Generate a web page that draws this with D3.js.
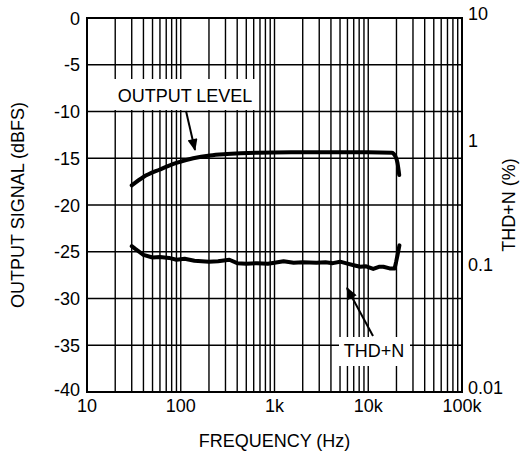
<!DOCTYPE html>
<html>
<head>
<meta charset="utf-8">
<script src="https://cdn.jsdelivr.net/npm/d3@7"></script>
<style>
  body { margin: 0; background: #fff; }
  svg text { font-family: "Liberation Sans", Arial, sans-serif; fill: #000; }
</style>
</head>
<body>
<svg id="chart" width="526" height="455"></svg>
<script>
// data
const levelFreq = [30, 40, 60, 90, 136, 205, 310, 650, 1500, 4000, 10000, 17800, 19500, 20500, 21400];
const levelDb   = [-17.9, -17.0, -16.2, -15.5, -15.0, -14.7, -14.55, -14.4, -14.35, -14.35, -14.35, -14.4, -14.8, -15.5, -16.8];

const thdFreq = [30, 33, 40, 50, 60, 75, 90, 110, 140, 200, 250, 330, 400, 500, 650, 850, 1000, 1250, 1600, 2000, 2800, 3500, 4200, 5000, 6000, 7000, 8200, 9500, 11300, 13000, 14500, 16900, 19100, 19800, 20500, 21500];
const thdPct  = [0.148, 0.14, 0.126, 0.12, 0.121, 0.119, 0.115, 0.117, 0.113, 0.111, 0.112, 0.115, 0.108, 0.107, 0.108, 0.107, 0.109, 0.112, 0.109, 0.11, 0.109, 0.11, 0.108, 0.111, 0.107, 0.104, 0.101, 0.102, 0.097, 0.101, 0.101, 0.098, 0.098, 0.11, 0.125, 0.15];

const xTicks = [10, 100, 1000, 10000, 100000];
const xTickLabels = ['10', '100', '1k', '10k', '100k'];
const leftTicks = [0, -5, -10, -15, -20, -25, -30, -35, -40];
const rightTicks = [10, 1, 0.1, 0.01];
const rightTickLabels = ['10', '1', '0.1', '0.01'];

const svg = d3.select('#chart');
const margin = {top: 18, left: 87, right: 64, bottom: 63};
const width = 526 - margin.left - margin.right,
      height = 455 - margin.top - margin.bottom;
const fs = '18px';

const x = d3.scaleLog().domain([10, 100000]).range([0, width]);
const y = d3.scaleLinear().domain([-40, 0]).range([height, 0]);
const y2 = d3.scaleLog().domain([0.01, 10]).range([height, 0]);

const g = svg.append('g')
  .attr('transform', 'translate(' + margin.left + ',' + margin.top + ')');

// grid
const minorFreqs = [];
for (let dec = 10; dec < 100000; dec *= 10) {
  for (let m = 1; m < 10; m++) minorFreqs.push(dec * m);
}
g.append('g').selectAll('line')
  .data(minorFreqs)
  .enter().append('line')
  .attr('x1', d => x(d)).attr('x2', d => x(d))
  .attr('y1', 0).attr('y2', height)
  .attr('stroke', '#000').attr('stroke-width', 1.4);

g.append('g').selectAll('line')
  .data(leftTicks)
  .enter().append('line')
  .attr('x1', 0).attr('x2', width)
  .attr('y1', d => y(d)).attr('y2', d => y(d))
  .attr('stroke', '#000').attr('stroke-width', 1.4);

// curves
const line = d3.line().curve(d3.curveMonotoneX);
g.append('path')
  .attr('d', line(levelFreq.map((f, i) => [x(f), y(levelDb[i])])))
  .attr('fill', 'none').attr('stroke', '#000').attr('stroke-width', 4)
  .attr('stroke-linecap', 'round');

g.append('path')
  .attr('d', d3.line()(thdFreq.map((f, i) => [x(f), y2(thdPct[i])])))
  .attr('fill', 'none').attr('stroke', '#000').attr('stroke-width', 4)
  .attr('stroke-linejoin', 'round').attr('stroke-linecap', 'round');

// frame
g.append('rect')
  .attr('width', width).attr('height', height)
  .attr('fill', 'none').attr('stroke', '#000').attr('stroke-width', 2);

// annotations
svg.append('defs').append('marker')
  .attr('id', 'arrow').attr('viewBox', '0 0 12 10')
  .attr('refX', 11).attr('refY', 5)
  .attr('markerWidth', 13).attr('markerHeight', 10)
  .attr('markerUnits', 'userSpaceOnUse')
  .attr('orient', 'auto')
  .append('path').attr('d', 'M0,0 L12,5 L0,10 z').attr('fill', '#000');

const notes = [
  {text: 'OUTPUT LEVEL', tx: 185, ty: 102, box: [111, 79, 148, 31], from: [186, 111], to: [195, 150]},
  {text: 'THD+N', tx: 374, ty: 357, box: [339, 337, 71, 29], from: [373, 336], to: [347, 288]}
];
notes.forEach(n => {
  svg.append('rect')
    .attr('x', n.box[0]).attr('y', n.box[1])
    .attr('width', n.box[2]).attr('height', n.box[3])
    .attr('fill', '#fff');
  svg.append('text')
    .attr('x', n.tx).attr('y', n.ty)
    .attr('text-anchor', 'middle')
    .style('font-size', fs)
    .text(n.text);
  svg.append('line')
    .attr('x1', n.from[0]).attr('y1', n.from[1])
    .attr('x2', n.to[0]).attr('y2', n.to[1])
    .attr('stroke', '#000').attr('stroke-width', 2)
    .attr('marker-end', 'url(#arrow)');
});

// tick labels
g.append('g').selectAll('text')
  .data(leftTicks)
  .enter().append('text')
  .attr('x', -7)
  .attr('y', d => y(d) + (d === -40 ? 4 : 6.5))
  .attr('text-anchor', 'end')
  .style('font-size', fs)
  .text(d => d);

g.append('g').selectAll('text')
  .data(rightTicks)
  .enter().append('text')
  .attr('x', width + 6)
  .attr('y', (d, i) => y2(d) + (i === 0 ? 1.5 : (i === rightTicks.length - 1 ? 1.5 : 4)))
  .style('font-size', fs)
  .text((d, i) => rightTickLabels[i]);

g.append('g').selectAll('text')
  .data(xTicks)
  .enter().append('text')
  .attr('x', d => x(d))
  .attr('y', height + 19.5)
  .attr('text-anchor', 'middle')
  .style('font-size', fs)
  .text((d, i) => xTickLabels[i]);

// axis titles
svg.append('text')
  .attr('transform', 'translate(24,' + (margin.top + height / 2) + ') rotate(-90)')
  .attr('text-anchor', 'middle')
  .style('font-size', fs)
  .text('OUTPUT SIGNAL (dBFS)');

svg.append('text')
  .attr('transform', 'translate(515,' + (margin.top + height / 2) + ') rotate(-90)')
  .attr('text-anchor', 'middle')
  .style('font-size', fs)
  .text('THD+N (%)');

svg.append('text')
  .attr('x', margin.left + width / 2)
  .attr('y', 447)
  .attr('text-anchor', 'middle')
  .style('font-size', fs)
  .text('FREQUENCY (Hz)');
</script>
</body>
</html>
